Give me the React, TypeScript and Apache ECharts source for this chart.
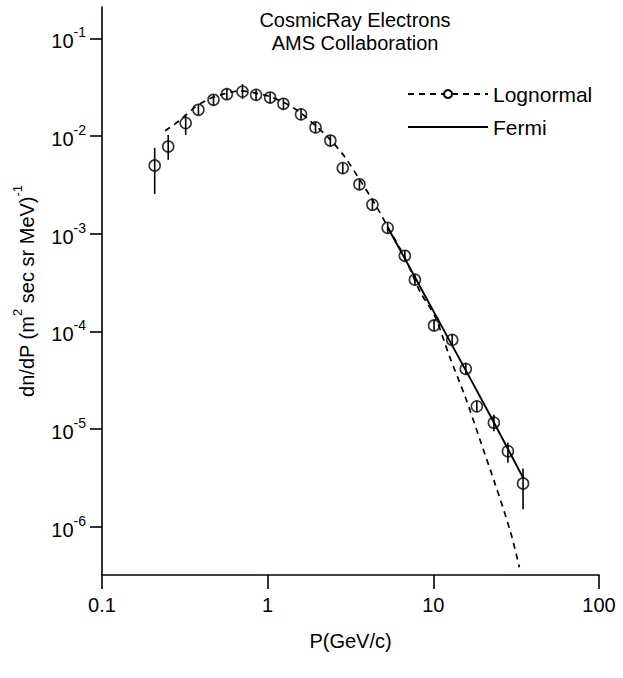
import React, { useEffect, useRef } from 'react';
import * as echarts from 'echarts';

const FONT = '"Liberation Sans", Arial, Helvetica, sans-serif';

// AMS electron data points (momentum GeV/c, flux, error bar low/high)
const momentum = [0.208, 0.251, 0.32, 0.382, 0.471, 0.567, 0.705, 0.851, 1.035, 1.245, 1.59, 1.945, 2.39, 2.84, 3.58, 4.29, 5.3, 6.73, 7.74, 10.1, 13.0, 15.7, 18.3, 23.2, 28.2, 34.8];
const flux = [4.97e-3, 7.77e-3, 1.35e-2, 1.85e-2, 2.34e-2, 2.67e-2, 2.84e-2, 2.63e-2, 2.47e-2, 2.13e-2, 1.66e-2, 1.22e-2, 8.95e-3, 4.67e-3, 3.19e-3, 1.97e-3, 1.14e-3, 5.9e-4, 3.36e-4, 1.14e-4, 8.11e-5, 4.09e-5, 1.69e-5, 1.15e-5, 5.87e-6, 2.74e-6];
const fluxLow = [2.54e-3, 5.68e-3, 1.02e-2, 1.63e-2, 2.06e-2, 2.35e-2, 2.39e-2, 2.31e-2, 2.17e-2, 1.87e-2, 1.46e-2, 1.07e-2, 7.86e-3, 4.1e-3, 2.8e-3, 1.73e-3, 1.0e-3, 5.2e-4, 2.95e-4, 1.0e-4, 7.1e-5, 3.6e-5, 1.48e-5, 9.4e-6, 4.47e-6, 1.49e-6];
const fluxHigh = [7.53e-3, 1.02e-2, 1.64e-2, 2.1e-2, 2.66e-2, 3.04e-2, 3.39e-2, 2.99e-2, 2.81e-2, 2.42e-2, 1.89e-2, 1.39e-2, 1.02e-2, 5.31e-3, 3.63e-3, 2.24e-3, 1.3e-3, 6.7e-4, 3.8e-4, 1.3e-4, 9.2e-5, 4.65e-5, 1.92e-5, 1.39e-5, 7.16e-6, 3.91e-6];

// Lognormal fit curve
const lognormalP = [0.24, 0.292, 0.36, 0.443, 0.547, 0.674, 0.831, 1.024, 1.262, 1.556, 1.919, 2.365, 2.916, 3.596, 4.434, 5.466, 6.739, 8.307, 10.24, 12.62, 15.56, 19.19, 23.65, 29.16, 33.07];
const lognormalFlux = [1.125e-2, 1.424e-2, 1.935e-2, 2.392e-2, 2.691e-2, 2.888e-2, 2.754e-2, 2.537e-2, 2.177e-2, 1.761e-2, 1.296e-2, 9.32e-3, 6.1e-3, 3.545e-3, 2.014e-3, 1.066e-3, 5.64e-4, 2.53e-4, 1.404e-4, 5.3e-5, 2.13e-5, 7.55e-6, 2.68e-6, 8.85e-7, 3.8e-7];

// Fermi fit curve
const fermiP = [5.316, 6.739, 8.906, 12.62, 17.89, 25.36, 34.97];
const fermiFlux = [1.144e-3, 5.51e-4, 2.3e-4, 7.79e-5, 2.63e-5, 8.7e-6, 3.09e-6];

// Axes
const xMin = 0.1;
const xMax = 100;
const xTickValues = [0.1, 1, 10, 100];
const xTickLabels = ['0.1', '1', '10', '100'];
const yFrameMin = 3.162e-7;
const yFrameMax = 0.209;
const yTickMin = 1e-6;
const yTickMax = 1e-1;
const yTickValues = [1e-1, 1e-2, 1e-3, 1e-4, 1e-5, 1e-6];
const yTickExponents = ['-1', '-2', '-3', '-4', '-5', '-6'];

function nearestIndex(values: number[], v: number): number {
  let best = 0;
  let bestD = Infinity;
  values.forEach((t, i) => {
    const d = Math.abs(Math.log10(t) - Math.log10(v));
    if (d < bestD) {
      bestD = d;
      best = i;
    }
  });
  return best;
}

export default function App() {
  const ref = useRef<HTMLDivElement>(null);

  useEffect(() => {
    if (!ref.current) return;
    const chart = echarts.init(ref.current, null, { renderer: 'svg' });

    const points = momentum.map((p, i) => [p, flux[i]]);
    const bars = momentum.map((p, i) => [p, fluxLow[i], fluxHigh[i]]);
    const lognormal = lognormalP.map((p, i) => [p, lognormalFlux[i]]);
    const fermi = fermiP.map((p, i) => [p, fermiFlux[i]]);

    const axisLineStyle = { color: '#000', width: 1.6 };

    chart.setOption({
      animation: false,
      backgroundColor: '#fff',
      textStyle: { fontFamily: FONT, color: '#000' },
      title: {
        text: 'CosmicRay Electrons\nAMS Collaboration',
        left: 350,
        top: 3,
        textAlign: 'center',
        textStyle: { fontSize: 20, fontWeight: 'normal', lineHeight: 23, color: '#000', fontFamily: FONT },
      },
      legend: {
        orient: 'vertical',
        left: 402,
        top: 78,
        itemWidth: 80,
        itemHeight: 10,
        itemGap: 11,
        selectedMode: false,
        textStyle: { fontSize: 21, lineHeight: 22, color: '#000', fontFamily: FONT },
        data: [{ name: 'Lognormal' }, { name: 'Fermi', itemStyle: { opacity: 0 } }],
      },
      grid: [
        { left: 102, top: 7, width: 497, height: 568, containLabel: false, outerBoundsMode: 'none' },
        { left: 102, top: 38.3, width: 497, height: 488.4, containLabel: false, outerBoundsMode: 'none' },
      ],
      xAxis: [
        {
          gridIndex: 0,
          type: 'log',
          logBase: 10,
          min: xMin,
          max: xMax,
          name: 'P(GeV/c)',
          nameLocation: 'middle',
          nameGap: 56,
          nameTextStyle: { fontSize: 20, color: '#000', fontFamily: FONT },
          axisLine: { show: true, lineStyle: axisLineStyle },
          axisTick: { show: true, inside: false, length: 14, lineStyle: axisLineStyle },
          axisLabel: {
            show: true,
            margin: 20,
            fontSize: 20,
            color: '#000',
            fontFamily: FONT,
            formatter: (v: number) => xTickLabels[nearestIndex(xTickValues, v)],
          },
          splitLine: { show: false },
          minorTick: { show: false },
        },
        { gridIndex: 1, type: 'log', logBase: 10, min: xMin, max: xMax, show: false },
      ],
      yAxis: [
        {
          gridIndex: 0,
          type: 'log',
          logBase: 10,
          min: yFrameMin,
          max: yFrameMax,
          axisLine: { show: true, lineStyle: axisLineStyle },
          axisTick: { show: false },
          axisLabel: { show: false },
          splitLine: { show: false },
          name: '{n|dn/dP (m}{s|2}{n| sec sr MeV)}{s|-1}',
          nameLocation: 'middle',
          nameGap: 65,
          nameRotate: 90,
          nameTextStyle: {
            color: '#000',
            fontFamily: FONT,
            rich: {
              n: { fontSize: 20, lineHeight: 26, verticalAlign: 'bottom', color: '#000', fontFamily: FONT },
              s: { fontSize: 13, lineHeight: 13, verticalAlign: 'top', color: '#000', fontFamily: FONT },
            },
          },
        },
        {
          gridIndex: 1,
          type: 'log',
          logBase: 10,
          min: yTickMin,
          max: yTickMax,
          axisLine: { show: false },
          axisTick: { show: true, inside: false, length: 12, lineStyle: axisLineStyle },
          axisLabel: {
            show: true,
            margin: 16,
            color: '#000',
            fontFamily: FONT,
            formatter: (v: number) => '{b|10}{s|' + yTickExponents[nearestIndex(yTickValues, v)] + '}',
            rich: {
              b: { fontSize: 20, lineHeight: 26, verticalAlign: 'bottom', color: '#000', fontFamily: FONT },
              s: { fontSize: 14, lineHeight: 13, verticalAlign: 'top', color: '#000', fontFamily: FONT },
            },
          },
          splitLine: { show: false },
        },
      ],
      series: [
        {
          name: 'Lognormal',
          type: 'line',
          xAxisIndex: 0,
          yAxisIndex: 0,
          data: lognormal,
          smooth: 0.3,
          symbol: 'emptyCircle',
          showSymbol: false,
          symbolSize: 8,
          itemStyle: { color: '#000' },
          lineStyle: { color: '#000', width: 1.7, type: [6, 5] },
          z: 2,
        },
        {
          name: 'Fermi',
          type: 'line',
          xAxisIndex: 0,
          yAxisIndex: 0,
          data: fermi,
          smooth: 0.3,
          symbol: 'none',
          itemStyle: { color: '#000' },
          lineStyle: { color: '#000', width: 1.9, type: 'solid' },
          z: 2,
        },
        {
          name: 'AMS data',
          type: 'custom',
          xAxisIndex: 0,
          yAxisIndex: 0,
          data: bars,
          encode: { x: 0, y: [1, 2] },
          renderItem: (params: any, api: any) => {
            const x = api.value(0);
            const p1 = api.coord([x, api.value(1)]);
            const p2 = api.coord([x, api.value(2)]);
            return {
              type: 'line',
              shape: { x1: p1[0], y1: p1[1], x2: p2[0], y2: p2[1] },
              style: { stroke: '#000', lineWidth: 1.6 },
            };
          },
          z: 3,
        },
        {
          name: 'AMS points',
          type: 'scatter',
          xAxisIndex: 0,
          yAxisIndex: 0,
          data: points,
          symbol: 'circle',
          symbolSize: 11,
          itemStyle: { color: 'rgba(0,0,0,0)', borderColor: '#000', borderWidth: 1.6 },
          z: 4,
        },
      ],
    });

    return () => chart.dispose();
  }, []);

  return (
    <div
      ref={ref}
      style={{ position: 'fixed', left: 0, top: 0, width: 623, height: 678, background: '#fff' }}
    />
  );
}
